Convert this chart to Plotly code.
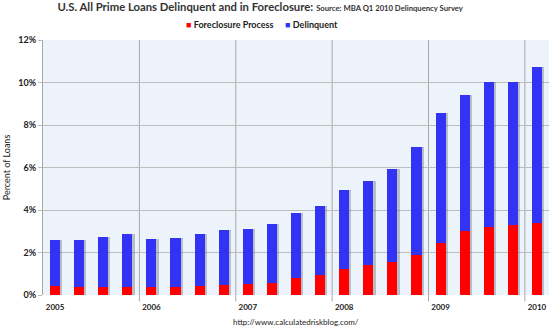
import plotly.graph_objects as go

# Quarterly prime loan performance, Q1 2005 - Q1 2010 (percent of loans)
quarters = [f"{y} Q{q}" for y in range(2005, 2011) for q in range(1, 5)][:21]
year_labels = ["2005", "2006", "2007", "2008", "2009", "2010"]
total_pct = [2.59, 2.59, 2.74, 2.89, 2.63, 2.69, 2.86, 3.05, 3.10, 3.33,
             3.88, 4.18, 4.92, 5.35, 5.91, 6.95, 8.55, 9.39, 10.03, 10.03, 10.74]
foreclosure_pct = [0.44, 0.39, 0.39, 0.39, 0.39, 0.39, 0.42, 0.47, 0.53, 0.57,
                   0.79, 0.94, 1.21, 1.42, 1.57, 1.86, 2.47, 3.00, 3.19, 3.30, 3.40]
delinquent_pct = [round(t - f, 2) for t, f in zip(total_pct, foreclosure_pct)]
pct_ticks = [0, 2, 4, 6, 8, 10, 12]

RED = "#FF0000"
BLUE = "#3333F5"
FONT = "Lato"
BAR_W = 0.42

fig = go.Figure()
# soft drop shadow behind each stacked bar
fig.add_trace(go.Bar(x=quarters, y=total_pct, width=BAR_W, offset=-BAR_W / 2 + 0.09,
                     marker=dict(color="rgba(90,90,110,0.35)", line_width=0),
                     showlegend=False, hoverinfo="skip"))
fig.add_trace(go.Bar(x=quarters, y=foreclosure_pct, name="Foreclosure Process",
                     width=BAR_W, offset=-BAR_W / 2,
                     marker=dict(color=RED, line_width=0), showlegend=False))
fig.add_trace(go.Bar(x=quarters, y=delinquent_pct, base=foreclosure_pct, name="Delinquent",
                     width=BAR_W, offset=-BAR_W / 2,
                     marker=dict(color=BLUE, line_width=0), showlegend=False))

# year separators between Q4 and Q1
shapes = []
for k in range(1, 6):
    shapes.append(dict(type="line", xref="x", yref="paper", x0=4 * k - 0.5, x1=4 * k - 0.5,
                       y0=-0.025, y1=1, line=dict(color="#A8A8A8", width=1), layer="below"))

annotations = [
    dict(xref="paper", yref="paper", x=0.433, y=1.06, xanchor="center", yanchor="middle",
         showarrow=False,
         text=(f"<span style='color:{RED}'>■</span> <b>Foreclosure Process</b>"
               f"     <span style='color:{BLUE}'>■</span> <b>Delinquent</b>"),
         font=dict(family=FONT, size=9, color="#222")),
    dict(xref="paper", yref="paper", x=0.5, y=-0.105, xanchor="center", yanchor="middle",
         showarrow=False, text="http://www.calculatedriskblog.com/",
         font=dict(family=FONT, size=8, color="#222")),
]

fig.update_layout(
    width=550, height=326,
    margin=dict(l=43, r=1, t=40, b=31),
    paper_bgcolor="white",
    plot_bgcolor="#ECF3FB",
    barmode="overlay",
    bargap=0,
    showlegend=False,
    title=dict(
        text=("<b>U.S. All Prime Loans Delinquent and in Foreclosure:</b> "
              "<span style='font-size:7.7px'><b>Source: MBA Q1 2010 Delinquency Survey</b></span>"),
        x=0.473, xanchor="center", y=0.978, yanchor="middle",
        font=dict(family=FONT, size=11.3, color="#333")),
    font=dict(family=FONT, size=9, color="#222"),
    shapes=shapes,
    annotations=annotations,
)
fig.update_xaxes(
    type="category", categoryorder="array", categoryarray=quarters,
    range=[-0.5, len(quarters) - 0.5],
    tickmode="array", tickvals=[quarters[i] for i in range(0, 21, 4)],
    ticktext=[f"<b>{y}</b>" for y in year_labels],
    tickfont=dict(family=FONT, size=8, color="#222"),
    showgrid=False, showline=False, ticks="", ticklabelstandoff=6,
)
fig.update_yaxes(
    range=[0, 12], tickmode="array", tickvals=pct_ticks,
    ticktext=[f"<b>{v}%</b>" for v in pct_ticks],
    tickfont=dict(family=FONT, size=9, color="#222"),
    showgrid=True, gridcolor="#BDBDBD", gridwidth=1,
    ticks="outside", ticklen=4, tickcolor="#BDBDBD",
    showline=True, linecolor="#A8A8A8", linewidth=1,
    zeroline=False,
    title=dict(text="Percent of Loans", font=dict(family=FONT, size=9, color="#222"), standoff=6),
)

fig.write_html("out.html")
